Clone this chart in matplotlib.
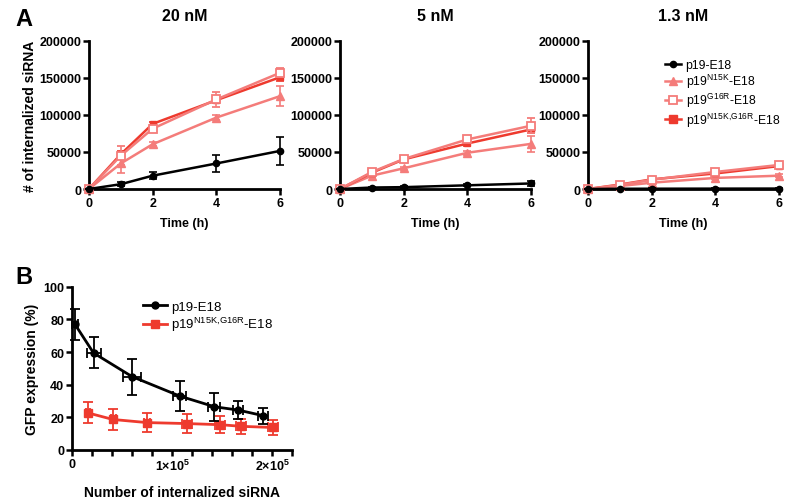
import numpy as np
import matplotlib
matplotlib.use("Agg")
import matplotlib.pyplot as plt
from matplotlib.ticker import FixedLocator
from matplotlib.lines import Line2D

plt.rcParams['font.family'] = ['Liberation Sans', 'DejaVu Sans']
plt.rcParams['mathtext.fontset'] = 'custom'
plt.rcParams['mathtext.rm'] = 'Liberation Sans'
plt.rcParams['mathtext.default'] = 'regular'

# ---- Panel A data: internalized siRNA vs time ----
time_h = [0, 1, 2, 4, 6]
concs = ['20 nM', '5 nM', '1.3 nM']

wt_mean = [[0, 6500, 18000, 34500, 51500],
           [0, 2000, 2500, 5000, 7500],
           [0, 300, 400, 500, 600]]
wt_err = [[0, 3000, 5000, 11500, 19000],
          [0, 800, 1000, 1500, 3000],
          [0, 200, 300, 300, 400]]

n15k_mean = [[0, 34500, 60500, 96500, 125500],
             [0, 18000, 28000, 49000, 61000],
             [0, 4000, 8500, 15000, 18000]]
n15k_err = [[0, 13000, 3000, 3000, 13000],
            [0, 2000, 2000, 3000, 11000],
            [0, 1000, 1000, 2000, 2000]]

g16r_mean = [[0, 45000, 81500, 121000, 157000],
             [0, 23000, 40500, 67000, 85500],
             [0, 5500, 12500, 23000, 32500]]
g16r_err = [[0, 13000, 3000, 10000, 6000],
            [0, 2000, 2000, 3000, 10000],
            [0, 1000, 1500, 2000, 2500]]

dbl_mean = [[0, 47000, 88000, 120000, 151000],
            [0, 22000, 40000, 61500, 80500],
            [0, 6000, 13000, 21000, 31000]]
dbl_err = [[0, 4000, 2000, 4000, 5000],
           [0, 2000, 1500, 3000, 5000],
           [0, 1000, 1000, 1500, 2000]]

# ---- Panel B data: GFP expression vs internalized siRNA ----
b_wt_x = [3000, 21500, 60000, 108000, 142500, 166000, 191500]
b_wt_xerr = [3000, 7000, 9000, 6500, 6000, 5000, 5000]
b_wt_y = [77, 59.5, 45, 33, 26.5, 24.5, 21]
b_wt_yerr = [9.5, 9.5, 11, 9, 8.5, 5.7, 4.8]

b_dbl_x = [15500, 41000, 75000, 115000, 148500, 169500, 201000]
b_dbl_xerr = [2000, 2500, 3000, 5000, 5000, 5000, 5000]
b_dbl_y = [22.8, 18.7, 16.8, 16.2, 15.5, 14.5, 13.8]
b_dbl_yerr = [6.5, 6.2, 6.0, 5.8, 5.3, 4.8, 4.5]

black = '#000000'
salmon = '#F47C7A'
red = '#EE3A2E'

lab_wt = 'p19-E18'
lab_n15k = 'p19$^{N15K}$-E18'
lab_g16r = 'p19$^{G16R}$-E18'
lab_dbl = 'p19$^{N15K{,}G16R}$-E18'


def style_axis(ax):
    for s in ['top', 'right']:
        ax.spines[s].set_visible(False)
    for s in ['left', 'bottom']:
        ax.spines[s].set_linewidth(2)
    ax.tick_params(which='major', width=1.8, length=4, labelsize=9, pad=1.5)
    ax.tick_params(which='minor', width=1.8, length=3)
    for t in ax.get_xticklabels() + ax.get_yticklabels():
        t.set_fontweight('bold')


fig = plt.figure(figsize=(7.87, 5.02), dpi=100)

lefts = [0.113, 0.432, 0.747]
for i in range(3):
    ax = fig.add_axes([lefts[i], 0.6215, 0.243, 0.295])
    kw = dict(lw=1.8, capsize=3, elinewidth=1.2, capthick=1.2, clip_on=False)
    ax.errorbar(time_h, wt_mean[i], yerr=wt_err[i], color=black, marker='o',
                ms=4.5, zorder=5, **kw)
    ax.errorbar(time_h, n15k_mean[i], yerr=n15k_err[i], color=salmon, marker='^',
                ms=6, zorder=3, **kw)
    ax.errorbar(time_h, g16r_mean[i], yerr=g16r_err[i], color=salmon, marker='s',
                ms=6, mfc='white', mew=1.3, zorder=4, **kw)
    ax.errorbar(time_h, dbl_mean[i], yerr=dbl_err[i], color=red, marker='s',
                ms=5, zorder=3.5, **kw)
    ax.set_xlim(0, 6)
    ax.set_ylim(0, 200000)
    ax.set_xticks([0, 2, 4, 6])
    ax.set_yticks([0, 50000, 100000, 150000, 200000])
    ax.set_title(concs[i], fontsize=11.5, fontweight='bold', pad=15)
    ax.set_xlabel('Time (h)', fontsize=9, fontweight='bold', labelpad=6)
    if i == 0:
        ax.set_ylabel('# of internalized siRNA', fontsize=10, fontweight='bold', labelpad=2)
    style_axis(ax)
    if i == 2:
        handles = [
            Line2D([], [], color=black, lw=1.8, marker='o', ms=4.5),
            Line2D([], [], color=salmon, lw=1.8, marker='^', ms=6),
            Line2D([], [], color=salmon, lw=1.8, marker='s', ms=5.5, mfc='white', mew=1.3),
            Line2D([], [], color=red, lw=1.8, marker='s', ms=5.5),
        ]
        ax.legend(handles, [lab_wt, lab_n15k, lab_g16r, lab_dbl],
                  loc='upper left', bbox_to_anchor=(0.38, 0.91), frameon=False,
                  fontsize=8.8, handlelength=1.3, handletextpad=0.35,
                  labelspacing=0.08, borderaxespad=0)

# Panel B
axb = fig.add_axes([0.0915, 0.1016, 0.2795, 0.325])
kwb = dict(lw=2, capsize=3.5, elinewidth=1.3, capthick=1.3, clip_on=False)
axb.errorbar(b_wt_x, b_wt_y, xerr=b_wt_xerr, yerr=b_wt_yerr, color=black,
             marker='o', ms=5, zorder=4, **kwb)
axb.errorbar(b_dbl_x, b_dbl_y, xerr=b_dbl_xerr, yerr=b_dbl_yerr, color=red,
             marker='s', ms=6, zorder=3, **kwb)
axb.set_xlim(0, 220000)
axb.set_ylim(0, 100)
axb.set_xticks([0, 100000, 200000])
axb.set_xticklabels(['0', '1×10$^5$', '2×10$^5$'])
axb.xaxis.set_minor_locator(FixedLocator(np.arange(0, 220001, 20000)))
axb.set_yticks([0, 20, 40, 60, 80, 100])
axb.set_xlabel('Number of internalized siRNA', fontsize=10, fontweight='bold', labelpad=9)
axb.set_ylabel('GFP expression (%)', fontsize=10, fontweight='bold', labelpad=3)
style_axis(axb)
axb.tick_params(which='minor', length=4)
hb = [Line2D([], [], color=black, lw=2, marker='o', ms=5),
      Line2D([], [], color=red, lw=2, marker='s', ms=6)]
axb.legend(hb, [lab_wt, lab_dbl], loc='upper left', bbox_to_anchor=(0.3, 0.95),
           frameon=False, fontsize=9.5, handlelength=1.8, handletextpad=0.3,
           labelspacing=0.2, borderaxespad=0)

fig.text(0.02, 0.962, 'A', fontsize=17, fontweight='bold', va='center')
fig.text(0.02, 0.448, 'B', fontsize=17, fontweight='bold', va='center')

fig.savefig('out.png', dpi=100)
